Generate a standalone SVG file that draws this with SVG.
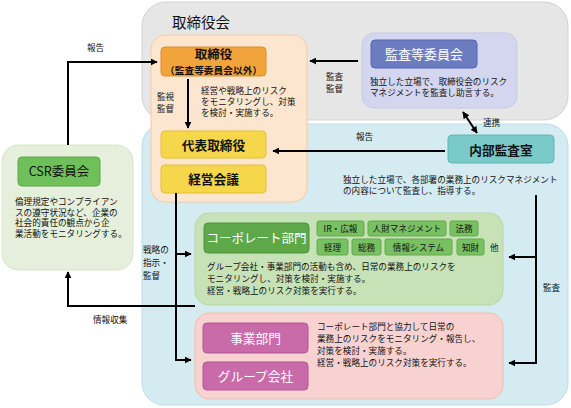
<svg xmlns="http://www.w3.org/2000/svg" width="571" height="408" viewBox="0 0 571 408">
<defs>
<marker id="ah" viewBox="0 0 10 10" refX="9" refY="5" markerWidth="7" markerHeight="7" markerUnits="userSpaceOnUse" orient="auto-start-reverse">
<path d="M0,0 L10,5 L0,10 z" fill="#000"/>
</marker>
<style>
text{font-family:"Noto Sans CJK JP","Noto Sans",sans-serif;fill:#111}
.d{font-size:8.6px}
.s{font-size:8.6px}
.lbl{font-weight:bold}
.w{fill:#fff}
.ln{fill:none;stroke:#000;stroke-width:2}
</style>
</defs>

<!-- panels -->
<g id="board">
<rect x="142" y="2" width="426" height="118" rx="24" fill="#e6e6e6" stroke="#d2d2d2"/>
<text x="172" y="28" font-size="14.5">取締役会</text>
</g>
<g id="internal-area">
<rect x="142" y="124" width="426" height="281" rx="22" fill="#d5ebf2" stroke="#bcdde8"/>
</g>
<g id="exec-panel">
<rect x="151" y="35" width="156" height="167" rx="14" fill="#fde6cf" stroke="#f6caa2"/>
</g>

<g id="torishimariyaku">
<rect x="161" y="47" width="105" height="29" rx="4" fill="#f2a43c" stroke="#de8c22"/>
<text x="213.5" y="59" font-size="12.5" text-anchor="middle" class="lbl">取締役</text>
<text x="165" y="73.5" font-size="9.6" class="lbl" textLength="97" lengthAdjust="spacing">（監査等委員会以外）</text>
</g>
<g id="exec-desc">
<text class="d" x="201" y="94">経営や戦略上のリスク</text>
<text class="d" x="201" y="105">をモニタリングし、対策</text>
<text class="d" x="201" y="116">を検討・実施する。</text>
</g>
<g id="daihyo">
<rect x="161" y="131" width="105" height="27" rx="4" fill="#f6d64a" stroke="#e2c034"/>
<text x="213.5" y="150" font-size="12.7" text-anchor="middle" class="lbl">代表取締役</text>
</g>
<g id="keiei-kaigi">
<rect x="161" y="165" width="105" height="28" rx="4" fill="#f6d64a" stroke="#e2c034"/>
<text x="213.5" y="184" font-size="12.7" text-anchor="middle" class="lbl">経営会議</text>
</g>

<g id="audit-committee">
<rect x="362" y="33" width="155" height="75" rx="12" fill="#d3d6ee" stroke="#c6c9e6"/>
<rect x="371" y="40" width="106" height="28" rx="4" fill="#6b7cc1" stroke="#5667ae"/>
<text x="424" y="59" font-size="13" text-anchor="middle" class="w">監査等委員会</text>
<text class="d" x="370" y="85">独立した立場で、取締役会のリスク</text>
<text class="d" x="370" y="96">マネジメントを監査し助言する。</text>
</g>

<g id="internal-audit">
<rect x="448" y="135" width="106" height="28" rx="4" fill="#7acaca" stroke="#5db6b6"/>
<text x="501" y="155" font-size="12.7" text-anchor="middle" class="lbl">内部監査室</text>
<text class="d" x="343" y="183">独立した立場で、各部署の業務上のリスクマネジメント</text>
<text class="d" x="343" y="194">の内容について監査し、指導する。</text>
</g>

<g id="csr">
<rect x="2" y="145" width="131" height="125" rx="16" fill="#e5efdb" stroke="#d7e6c9"/>
<rect x="18" y="157" width="82" height="29" rx="4" fill="#6fc05b" stroke="#58a846"/>
<text x="59" y="176" font-size="12.5" text-anchor="middle">CSR委員会</text>
<text class="d" x="15" y="205">倫理規定やコンプライアン</text>
<text class="d" x="15" y="215.5">スの遵守状況など、企業の</text>
<text class="d" x="15" y="226">社会的責任の観点から企</text>
<text class="d" x="15" y="236.5">業活動をモニタリングする。</text>
</g>

<g id="corporate">
<rect x="195" y="213" width="308" height="92" rx="14" fill="#c8e2b8" stroke="#b6d7a2"/>
<rect x="204" y="223" width="105" height="30" rx="4" fill="#5ea84a" stroke="#4b9238"/>
<text x="256.5" y="243" font-size="12.5" text-anchor="middle" class="w">コーポレート部門</text>
<rect x="317" y="221" width="47" height="15" rx="2" fill="#79c062" stroke="#62aa4b"/>
<text x="340.5" y="232" class="s" text-anchor="middle">IR・広報</text>
<rect x="368" y="221" width="78" height="15" rx="2" fill="#79c062" stroke="#62aa4b"/>
<text x="407" y="232" class="s" text-anchor="middle">人財マネジメント</text>
<rect x="450" y="221" width="28" height="15" rx="2" fill="#79c062" stroke="#62aa4b"/>
<text x="464" y="232" class="s" text-anchor="middle">法務</text>
<rect x="317" y="239" width="31" height="16" rx="2" fill="#79c062" stroke="#62aa4b"/>
<text x="332.5" y="250.5" class="s" text-anchor="middle">経理</text>
<rect x="352" y="239" width="29" height="16" rx="2" fill="#79c062" stroke="#62aa4b"/>
<text x="366.5" y="250.5" class="s" text-anchor="middle">総務</text>
<rect x="385" y="239" width="67" height="16" rx="2" fill="#79c062" stroke="#62aa4b"/>
<text x="418.5" y="250.5" class="s" text-anchor="middle">情報システム</text>
<rect x="457" y="239" width="27" height="16" rx="2" fill="#79c062" stroke="#62aa4b"/>
<text x="470.5" y="250.5" class="s" text-anchor="middle">知財</text>
<text x="490" y="250.5" class="s">他</text>
<text class="d" x="207" y="270">グループ会社・事業部門の活動も含め、日常の業務上のリスクを</text>
<text class="d" x="207" y="282">モニタリングし、対策を検討・実施する。</text>
<text class="d" x="207" y="294">経営・戦略上のリスク対策を実行する。</text>
</g>

<g id="business">
<rect x="195" y="313" width="308" height="86" rx="14" fill="#f8d2d1" stroke="#f3bba6"/>
<rect x="203" y="323" width="105" height="30" rx="4" fill="#c96aa9" stroke="#b25595"/>
<text x="255.5" y="343" font-size="12.7" text-anchor="middle" class="w">事業部門</text>
<rect x="203" y="362" width="105" height="28" rx="4" fill="#c96aa9" stroke="#b25595"/>
<text x="255.5" y="381" font-size="12.7" text-anchor="middle" class="w">グループ会社</text>
<text class="d" x="317" y="330">コーポレート部門と協力して日常の</text>
<text class="d" x="317" y="342">業務上のリスクをモニタリング・報告し、</text>
<text class="d" x="317" y="354">対策を検討・実施する。</text>
<text class="d" x="317" y="366">経営・戦略上のリスク対策を実行する。</text>
</g>

<g id="connectors">
<path class="ln" d="M68,145 V62 H157" marker-end="url(#ah)"/>
<text class="d" x="87" y="51">報告</text>
<path class="ln" d="M188,79 V128" marker-end="url(#ah)"/>
<text class="d" x="157" y="100">監視</text>
<text class="d" x="157" y="112">監督</text>
<path class="ln" d="M358,61 H310" marker-end="url(#ah)"/>
<text class="d" x="326" y="80">監査</text>
<text class="d" x="326" y="92">監督</text>
<path class="ln" d="M463,112 L477,133" marker-start="url(#ah)" marker-end="url(#ah)"/>
<text class="d" x="483" y="126">連携</text>
<path class="ln" d="M445,151 H273" marker-end="url(#ah)"/>
<text class="d" x="356" y="140">報告</text>
<path class="ln" d="M176,193 V360 H191" marker-end="url(#ah)"/>
<path class="ln" d="M176,254 H191" marker-end="url(#ah)"/>
<text class="d" x="143" y="253">戦略の</text>
<text class="d" x="143" y="266">指示・</text>
<text class="d" x="143" y="279">監督</text>
<path class="ln" d="M195,306 H68 V272" marker-end="url(#ah)"/>
<text class="d" x="93" y="323">情報収集</text>
<path class="ln" d="M536,195 V363 H509" marker-end="url(#ah)"/>
<path class="ln" d="M536,257 H509" marker-end="url(#ah)"/>
<text class="d" x="543" y="291">監査</text>
</g>
</svg>
